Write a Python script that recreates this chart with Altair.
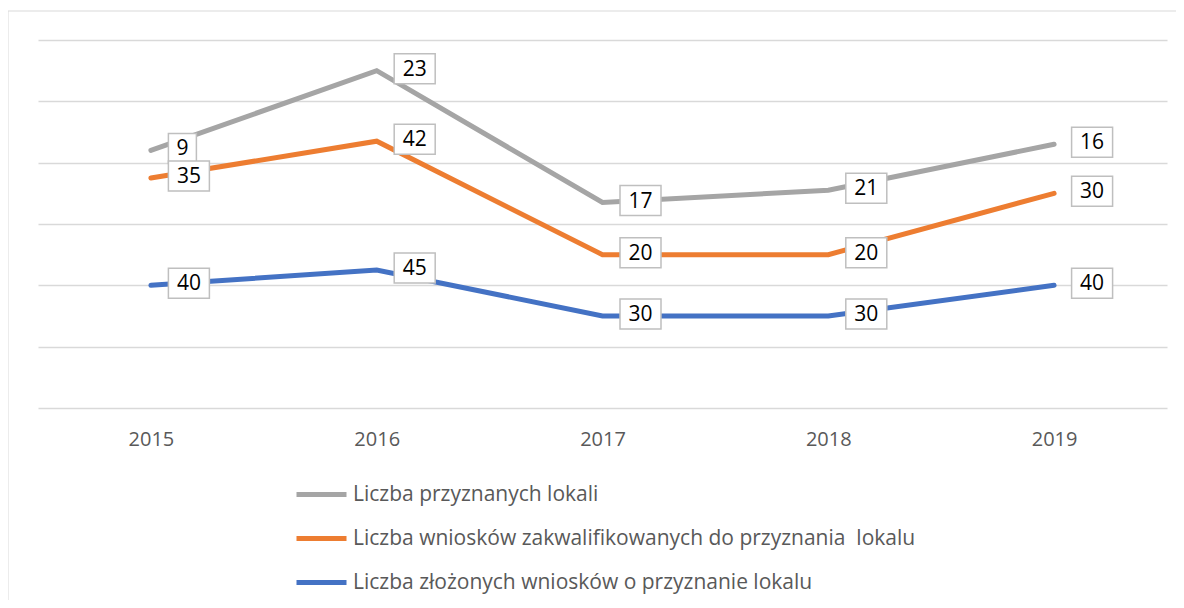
import altair as alt
import pandas as pd

years = ["2015", "2016", "2017", "2018", "2019"]
series_names = [
    "Liczba złożonych wniosków o przyznanie lokalu",
    "Liczba wniosków zakwalifikowanych do przyznania\u00a0 lokalu",
    "Liczba przyznanych lokali",
]
blue_vals = [40, 45, 30, 30, 40]
orange_vals = [35, 42, 20, 20, 30]
gray_vals = [9, 23, 17, 21, 16]
colors = ["#4472C4", "#ED7D31", "#A5A5A5"]

rows = []
all_vals = [blue_vals, orange_vals, gray_vals]
for i, yr in enumerate(years):
    cum = 0
    for s, name in enumerate(series_names):
        v = all_vals[s][i]
        cum += v
        rows.append({"year": yr, "series": name, "value": v, "cum": cum, "order": s,
                     "label": str(v)})
df = pd.DataFrame(rows)

FONT = "Open Sans"
legend_order = [series_names[2], series_names[1], series_names[0]]
legend_colors = [colors[2], colors[1], colors[0]]

x = alt.X("year:O", scale=alt.Scale(type="point", padding=0.5),
          axis=alt.Axis(title=None, labelAngle=0, domain=False, ticks=False, grid=False,
                        labelFontSize=20, labelColor="#595959", labelFont=FONT, labelPadding=21))
y = alt.Y("cum:Q", scale=alt.Scale(domain=[0, 120]),
          axis=alt.Axis(title=None, labels=False, ticks=False, domain=False, values=[0, 20, 40, 60, 80, 100, 120],
                        grid=True, gridColor="#D9D9D9", gridWidth=1.3))

base = alt.Chart(df)

frame = alt.Chart(pd.DataFrame({"a": [0]})).mark_rect(fill=None, stroke="#D9D9D9", strokeWidth=1).encode(
    x=alt.value(-30), y=alt.value(-29), x2=alt.value(1300), y2=alt.value(800))

lines = base.mark_line(strokeWidth=5, strokeCap="round", strokeJoin="miter").encode(
    x=x, y=y,
    color=alt.Color("series:N", scale=alt.Scale(domain=legend_order, range=legend_colors),
                    sort=legend_order,
                    legend=alt.Legend(title=None, orient="none", legendX=256, legendY=427,
                                      direction="vertical", symbolType="stroke", symbolSize=2500,
                                      symbolStrokeWidth=5, labelFontSize=21, labelColor="#595959",
                                      labelFont=FONT, rowPadding=6, labelOffset=4, labelLimit=900)),
    detail="series:N",
)

layers = [frame, lines]
for s in [2, 1, 0]:
    sub = base.transform_filter(alt.datum.order == s)
    two = sub.transform_filter(alt.datum.value >= 10)
    one = sub.transform_filter(alt.datum.value < 10)
    layers.append(two.mark_rect(width=41, height=30, xOffset=38, yOffset=-2, fill="white", stroke="#BFBFBF",
                                strokeWidth=1.5).encode(x=x, y=y))
    layers.append(one.mark_rect(width=28, height=30, xOffset=31.5, yOffset=-2, fill="white", stroke="#BFBFBF",
                                strokeWidth=1.5).encode(x=x, y=y))
    layers.append(two.mark_text(dx=38, dy=-1, fontSize=21, font=FONT, color="#000000",
                                align="center", baseline="middle").encode(x=x, y=y, text="label:N"))
    layers.append(one.mark_text(dx=31.5, dy=-1, fontSize=21, font=FONT, color="#000000",
                                align="center", baseline="middle").encode(x=x, y=y, text="label:N"))

chart = alt.layer(*layers).properties(
    width=1129, height=368,
    autosize=alt.AutoSizeParams(type="none"),
    padding={"left": 30, "top": 32, "right": 9, "bottom": 192},
).configure_view(stroke=None)

chart.save("out.html", embed_options={"renderer": "svg", "actions": False})
